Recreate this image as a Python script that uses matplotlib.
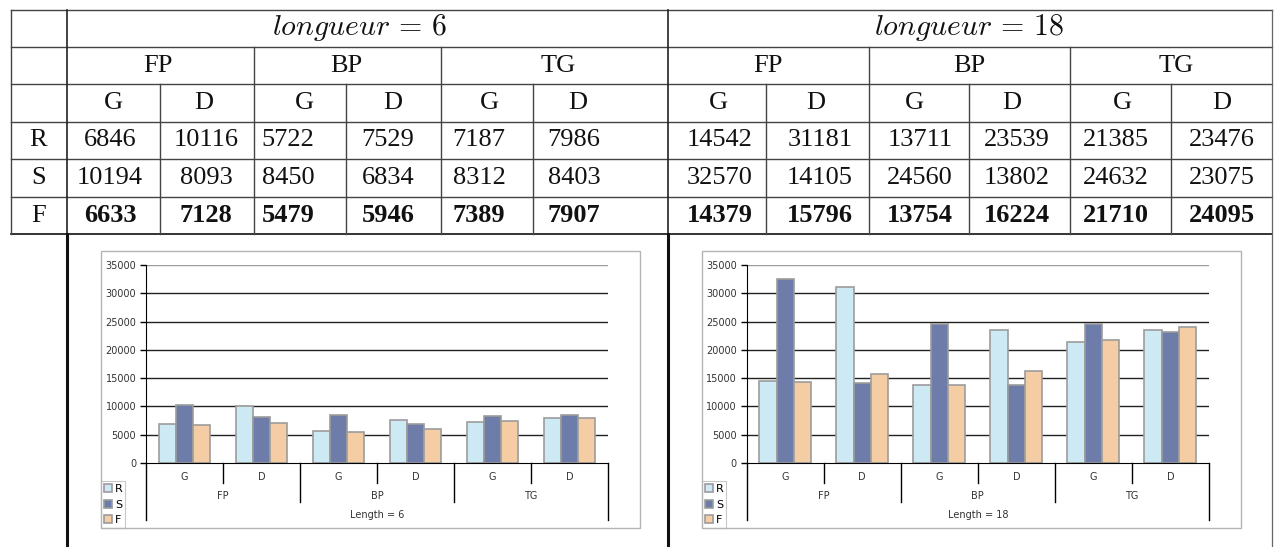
import matplotlib
matplotlib.use("Agg")
import matplotlib.pyplot as plt
from matplotlib.lines import Line2D
from matplotlib.patches import Rectangle
import numpy as np

plt.rcParams["mathtext.fontset"] = "cm"
plt.rcParams["font.family"] = "DejaVu Sans"

W, H = 1276, 547

groups = ["FP", "BP", "TG"]
sides = ["G", "D"]
series = ["R", "S", "F"]

# longueur = 6
r6 = [6846, 10116, 5722, 7529, 7187, 7986]
s6 = [10194, 8093, 8450, 6834, 8312, 8403]
f6 = [6633, 7128, 5479, 5946, 7389, 7907]

# longueur = 18
r18 = [14542, 31181, 13711, 23539, 21385, 23476]
s18 = [32570, 14105, 24560, 13802, 24632, 23075]
f18 = [14379, 15796, 13754, 16224, 21710, 24095]

colors = ["#cde9f4", "#6e7ca9", "#f5cda5"]

fig = plt.figure(figsize=(W / 100, H / 100), dpi=100)


def fx(x):
    return x / W


def fy(y):
    return 1 - y / H


def hline(y, x0, x1, lw=1.0, c="#444444"):
    fig.add_artist(Line2D([fx(x0), fx(x1)], [fy(y), fy(y)], transform=fig.transFigure, lw=lw, color=c))


def vline(x, y0, y1, lw=1.0, c="#444444"):
    fig.add_artist(Line2D([fx(x), fx(x)], [fy(y0), fy(y1)], transform=fig.transFigure, lw=lw, color=c))


def put(x, y, s, **kw):
    fig.text(fx(x), fy(y), s, ha="center", va="center", **kw)


# ---- table grid
rows_y = [10, 46.7, 84.3, 121.7, 159.3, 196.7, 234.3]
for y in rows_y[:-1]:
    hline(y, 10.7, 1272)
hline(rows_y[-1], 10.7, 1272, lw=1.2, c="#111111")
vline(10.7, 10, 234.3)
for x in [66.7, 668]:
    vline(x, 10, 234.3, lw=1.2, c="#222222")
    vline(x, 234.3, 547, lw=2.2, c="#111111")
vline(1272, 10, 547, lw=0.9, c="#666666")
for x in [254, 441, 869, 1070]:
    vline(x, 46.7, 234.3)
for x in [160, 346, 533, 766, 969, 1171]:
    vline(x, 84.3, 234.3)

tfont = dict(family="Liberation Serif", fontsize=19, color="#111111")
row_c = [28.3, 65.5, 103, 140.5, 178, 215.5]

num_x = [[110, 206, 288, 388, 479, 574], [720, 820, 920, 1017, 1116, 1222]]
side_x = [[113, 204, 304, 393, 489, 578], [718, 816, 914, 1012, 1122, 1222]]
grp_x = [[158, 346, 558], [768, 969, 1176]]
title_x = [360, 969]

for k, (lab, tab) in enumerate([("6", (r6, s6, f6)), ("18", (r18, s18, f18))]):
    put(title_x[k], row_c[0] - 1, r"$longueur\,=\," + lab + "$", fontsize=21.5, color="#111111")
    for j, g in enumerate(groups):
        put(grp_x[k][j], row_c[1], g, **tfont)
    for i in range(6):
        put(side_x[k][i], row_c[2], sides[i % 2], **tfont)
    for r, vals in enumerate(tab):
        for i, v in enumerate(vals):
            put(num_x[k][i], row_c[3 + r], str(v), fontweight="bold" if r == 2 else "normal", **tfont)

for r, s in enumerate(series):
    put(38.5, row_c[3 + r], s, **tfont)


# ---- charts
def draw_chart(x0, x1, box, r, s, f, length_label):
    top, zero = 265, 463
    h = zero - top
    fig.add_artist(Rectangle((fx(box[0]), fy(box[3])), fx(box[2]) - fx(box[0]), fy(box[1]) - fy(box[3]),
                             transform=fig.transFigure, fill=False, edgecolor="#b4b4b4", lw=1.0))
    ax = fig.add_axes([fx(x0), fy(zero), fx(x1) - fx(x0), h / H])
    ax.patch.set_alpha(0)
    x = np.arange(6)
    w = 0.225
    for k, vals in enumerate([r, s, f]):
        ax.bar(x + (k - 1) * w, vals, w, color=colors[k], edgecolor="#9c9c9c", lw=1.2,
               label=series[k], zorder=3)
    ax.set_xlim(-0.5, 5.5)
    ax.set_ylim(0, 35000)
    ax.set_yticks(range(0, 35001, 5000))
    for v in range(5000, 35001, 5000):
        ax.axhline(v, color="#222222" if v < 35000 else "#9a9a9a", lw=1.0, zorder=1)
    for sp in ["top", "right"]:
        ax.spines[sp].set_visible(False)
    ax.spines["left"].set_color("black")
    ax.spines["bottom"].set_color("black")
    ax.spines["bottom"].set_zorder(4)
    ax.set_xticks([])
    ax.tick_params(axis="y", direction="out", length=4, width=1, labelsize=7,
                   labelcolor="#333333", pad=3)

    tr = ax.get_xaxis_transform()

    def ay(p):
        return -p / h

    lk = dict(transform=tr, color="black", lw=1.0, clip_on=False)
    for i in range(6):
        ax.text(i, ay(14), sides[i % 2], ha="center", va="center", transform=tr,
                fontsize=7, color="#333333")
    for xv in [0.5, 2.5, 4.5]:
        ax.plot([xv, xv], [0, ay(20)], **lk)
    for xv in [1.5, 3.5]:
        ax.plot([xv, xv], [0, ay(39)], **lk)
    for xv in [-0.5, 5.5]:
        ax.plot([xv, xv], [0, ay(57)], **lk)
    for j, g in enumerate(groups):
        ax.text(2 * j + 0.5, ay(33), g, ha="center", va="center", transform=tr,
                fontsize=7, color="#333333")
    ax.text(2.5, ay(52), length_label, ha="center", va="center", transform=tr,
            fontsize=7, color="#333333")

    leg = ax.legend(loc="lower left", bbox_to_anchor=(fx(box[0]), fy(box[3])),
                    bbox_transform=fig.transFigure, borderaxespad=0, fontsize=8,
                    handlelength=0.75, handleheight=0.75, handletextpad=0.25,
                    borderpad=0.25, labelspacing=0.5, fancybox=False, framealpha=1)
    leg.get_frame().set_edgecolor("#c8c8c8")
    leg.get_frame().set_linewidth(0.8)
    return ax


draw_chart(146, 608, (101, 251, 640, 528), r6, s6, f6, "Length = 6")
draw_chart(746.7, 1209, (702, 251, 1241, 528), r18, s18, f18, "Length = 18")

fig.savefig("out.png", dpi=100)
